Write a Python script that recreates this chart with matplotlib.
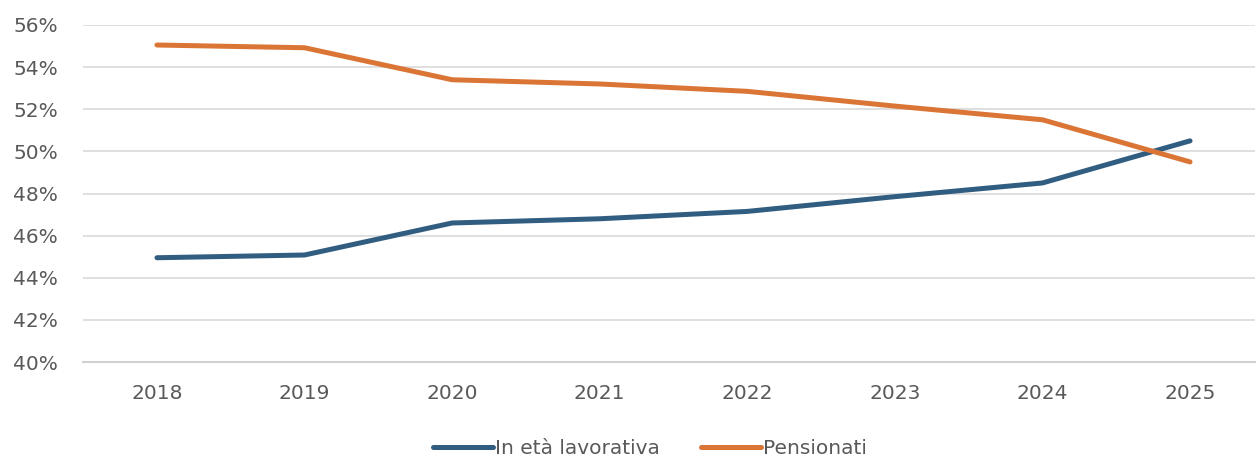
import matplotlib
matplotlib.use('Agg')
import matplotlib.pyplot as plt
from matplotlib.ticker import FuncFormatter

# Dati (quota %)
anni = ['2018', '2019', '2020', '2021', '2022', '2023', '2024', '2025']
lavorativa = [44.95, 45.08, 46.6, 46.8, 47.15, 47.85, 48.5, 50.5]
pensionati = [55.05, 54.92, 53.4, 53.2, 52.85, 52.15, 51.5, 49.5]

COL_BLU, COL_ARANCIO = '#315D81', '#DB7536'
COL_TESTO = '#595959'

plt.rcParams.update({'font.family': 'DejaVu Sans', 'font.size': 14.5})

fig = plt.figure(figsize=(12.59, 4.59), dpi=100)
ax = fig.add_axes([83/1259, 97/459, (1255-83)/1259, (362-25)/459])

x = range(len(anni))
ax.plot(x, lavorativa, color=COL_BLU, linewidth=3.6, label='In età lavorativa',
        solid_capstyle='round', zorder=3)
ax.plot(x, pensionati, color=COL_ARANCIO, linewidth=3.6, label='Pensionati',
        solid_capstyle='round', zorder=3)

ax.set_ylim(40, 56)
ax.set_yticks(range(40, 57, 2))
ax.yaxis.set_major_formatter(FuncFormatter(lambda v, p: f'{v:.0f}%'))
ax.set_xlim(-0.501, 7.44)
ax.set_xticks(list(x))
ax.set_xticklabels(anni)

ax.grid(axis='y', color='#D9D9D9', linewidth=1.2)
ax.set_axisbelow(True)
for s in ['top', 'right', 'left']:
    ax.spines[s].set_visible(False)
ax.spines['bottom'].set_color('#D0D0D0')
ax.spines['bottom'].set_linewidth(1.5)
ax.tick_params(axis='both', length=0, colors=COL_TESTO, labelsize=14.5)
ax.tick_params(axis='x', pad=16)
ax.tick_params(axis='y', pad=18)

leg = fig.legend(loc='center', bbox_to_anchor=(650/1259, 1 - 449/459), ncol=2,
                 frameon=False, fontsize=14.5, handlelength=3.0, handletextpad=0.1,
                 columnspacing=2.0)
for t in leg.get_texts():
    t.set_color(COL_TESTO)

fig.savefig('out.png', dpi=100, facecolor='white')
